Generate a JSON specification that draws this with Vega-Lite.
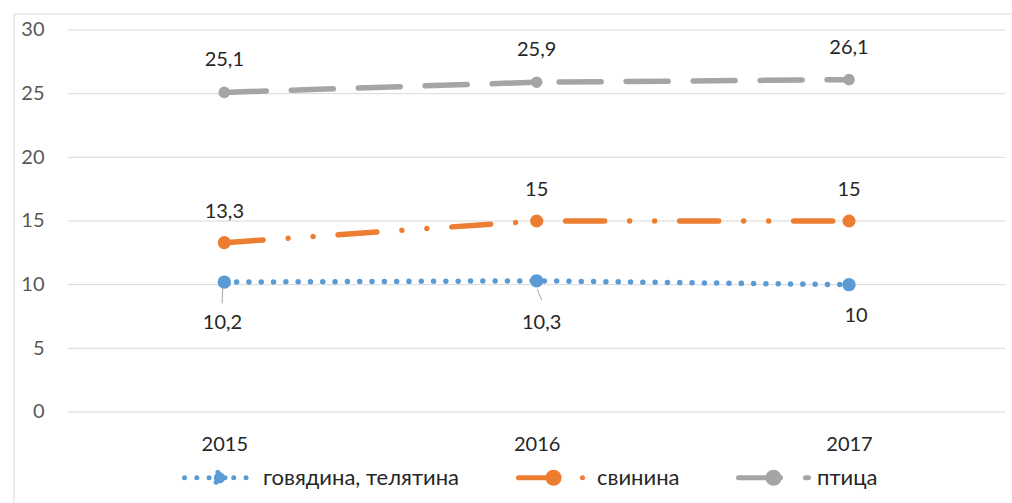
{
  "$schema": "https://vega.github.io/schema/vega-lite/v6.json",
  "width": 998,
  "height": 489,
  "autosize": {"type": "none"},
  "padding": {"left": 14, "top": 14, "right": 0, "bottom": 0},
  "background": "white",
  "config": {
    "view": {"stroke": null},
    "font": "Lato, 'Open Sans', sans-serif",
    "text": {"font": "Lato, 'Open Sans', sans-serif"}
  },
  "datasets": {
    "meat": [
      {"year": 2015, "series": "говядина, телятина", "value": 10.2, "label": "10,2"},
      {"year": 2016, "series": "говядина, телятина", "value": 10.3, "label": "10,3"},
      {"year": 2017, "series": "говядина, телятина", "value": 10, "label": "10"},
      {"year": 2015, "series": "свинина", "value": 13.3, "label": "13,3"},
      {"year": 2016, "series": "свинина", "value": 15, "label": "15"},
      {"year": 2017, "series": "свинина", "value": 15, "label": "15"},
      {"year": 2015, "series": "птица", "value": 25.1, "label": "25,1"},
      {"year": 2016, "series": "птица", "value": 25.9, "label": "25,9"},
      {"year": 2017, "series": "птица", "value": 26.1, "label": "26,1"}
    ],
    "grid": [{"v": 0}, {"v": 5}, {"v": 10}, {"v": 15}, {"v": 20}, {"v": 25}, {"v": 30}]
  },
  "layer": [
    {
      "data": {"name": "grid"},
      "mark": {"type": "rule", "color": "#d9d9d9", "strokeWidth": 1},
      "encoding": {
        "x": {"datum": 2014.5, "type": "quantitative", "scale": {"domain": [2014.3267, 2017.5218], "nice": false, "zero": false}},
        "x2": {"datum": 2017.5},
        "y": {"field": "v", "type": "quantitative", "scale": {"domain": [-7.147, 31.2565], "nice": false, "zero": false}}
      }
    },
    {
      "data": {"values": [{"k": 1}]},
      "mark": {"type": "rule", "color": "#d9d9d9", "strokeWidth": 1},
      "encoding": {
        "x": {"datum": 2014.3267, "type": "quantitative"},
        "y": {"datum": -7.147, "type": "quantitative"},
        "y2": {"datum": 31.2565}
      }
    },
    {
      "data": {"values": [{"k": 1}]},
      "mark": {"type": "rule", "color": "#d9d9d9", "strokeWidth": 1},
      "encoding": {
        "x": {"datum": 2014.3267, "type": "quantitative"},
        "x2": {"datum": 2017.5218},
        "y": {"datum": 31.2565, "type": "quantitative"}
      }
    },
    {
      "data": {"name": "meat"},
      "transform": [{"filter": "datum.series === 'говядина, телятина' && datum.year === 2015"}],
      "mark": {"type": "rule", "color": "#a6a6a6", "strokeWidth": 1, "xOffset": -1.6, "x2Offset": -2.3, "yOffset": 6.2, "y2Offset": 21.2},
      "encoding": {
        "x": {"field": "year", "type": "quantitative"},
        "x2": {"field": "year"},
        "y": {"field": "value", "type": "quantitative"},
        "y2": {"field": "value"}
      }
    },
    {
      "data": {"name": "meat"},
      "transform": [{"filter": "datum.series === 'говядина, телятина' && datum.year === 2016"}],
      "mark": {"type": "rule", "color": "#a6a6a6", "strokeWidth": 1, "xOffset": 0.6, "x2Offset": 5, "yOffset": 8.5, "y2Offset": 19.2},
      "encoding": {
        "x": {"field": "year", "type": "quantitative"},
        "x2": {"field": "year"},
        "y": {"field": "value", "type": "quantitative"},
        "y2": {"field": "value"}
      }
    },
    {
      "data": {"name": "meat"},
      "mark": {"type": "line", "strokeCap": "round", "strokeJoin": "round", "strokeWidth": 5.5},
      "encoding": {
        "x": {
          "field": "year", "type": "quantitative",
          "scale": {"domain": [2014.3267, 2017.5218], "nice": false, "zero": false},
          "axis": {"title": null, "values": [2015, 2016, 2017], "format": "d", "grid": false, "domain": false, "ticks": false, "tickSize": 0, "labelPadding": -58.5, "labelBaseline": "middle", "labelFontSize": 20, "labelColor": "#262626", "labelFont": "Lato, 'Open Sans', sans-serif", "labelFlush": false, "labelOverlap": false}
        },
        "y": {
          "field": "value", "type": "quantitative",
          "scale": {"domain": [-7.147, 31.2565], "nice": false, "zero": false},
          "axis": {"title": null, "values": [0, 5, 10, 15, 20, 25, 30], "grid": false, "domain": false, "ticks": false, "tickSize": 0, "labelPadding": -30, "labelBaseline": "middle", "labelFontSize": 20, "labelColor": "#595959", "labelFont": "Lato, 'Open Sans', sans-serif", "labelOverlap": false}
        },
        "color": {
          "field": "series", "type": "nominal",
          "scale": {"domain": ["говядина, телятина", "свинина", "птица"], "range": ["#5B9BD5", "#ED7D31", "#A5A5A5"]},
          "legend": {
            "title": null, "orient": "none", "direction": "horizontal", "legendX": 168, "legendY": 426,
            "symbolType": "M-1,0L1,0M0.16,0A0.16,0.16,0,1,1,-0.16,0A0.16,0.16,0,1,1,0.16,0Z",
            "symbolSize": 4900, "symbolStrokeWidth": 5, "labelFontSize": 22, "labelColor": "#262626", "labelLimit": 400,
            "labelFont": "Lato, 'Open Sans', sans-serif", "labelOffset": 6, "columnPadding": 56, "padding": 0,
            "encode": {"symbols": {"update": {
              "fill": {"scale": "color", "field": "value"}, "fillOpacity": {"value": 1},
              "strokeCap": {"value": "round"}, "strokeJoin": {"value": "round"}
            }}}
          }
        },
        "strokeDash": {
          "field": "series", "type": "nominal",
          "scale": {"domain": ["говядина, телятина", "свинина", "птица"], "range": [[0.01, 12.3], [39, 25, 0.01, 25, 0.01, 25], [42, 25]]},
          "legend": {
            "title": null, "orient": "none", "direction": "horizontal", "legendX": 168, "legendY": 426,
            "symbolType": "M-1,0L1,0M0.16,0A0.16,0.16,0,1,1,-0.16,0A0.16,0.16,0,1,1,0.16,0Z",
            "symbolSize": 4900, "symbolStrokeWidth": 5, "labelFontSize": 22, "labelColor": "#262626", "labelLimit": 400,
            "labelFont": "Lato, 'Open Sans', sans-serif", "labelOffset": 6, "columnPadding": 56, "padding": 0,
            "encode": {"symbols": {"update": {
              "fill": {"scale": "color", "field": "value"}, "fillOpacity": {"value": 1},
              "strokeCap": {"value": "round"}, "strokeJoin": {"value": "round"}
            }}}
          }
        }
      }
    },
    {
      "data": {"name": "meat"},
      "transform": [{"filter": "datum.series === 'говядина, телятина'"}],
      "mark": {"type": "point", "filled": true, "shape": "circle", "opacity": 1, "color": "#5B9BD5", "size": 180},
      "encoding": {
        "x": {"field": "year", "type": "quantitative"},
        "y": {"field": "value", "type": "quantitative"}
      }
    },
    {
      "data": {"name": "meat"},
      "transform": [{"filter": "datum.series === 'свинина'"}],
      "mark": {"type": "point", "filled": true, "shape": "circle", "opacity": 1, "color": "#ED7D31", "size": 170},
      "encoding": {
        "x": {"field": "year", "type": "quantitative"},
        "y": {"field": "value", "type": "quantitative"}
      }
    },
    {
      "data": {"name": "meat"},
      "transform": [{"filter": "datum.series === 'птица'"}],
      "mark": {"type": "point", "filled": true, "shape": "circle", "opacity": 1, "color": "#A5A5A5", "size": 135},
      "encoding": {
        "x": {"field": "year", "type": "quantitative"},
        "y": {"field": "value", "type": "quantitative"}
      }
    },
    {
      "data": {"name": "meat"},
      "transform": [{"filter": "datum.series === 'птица'"}],
      "mark": {"type": "text", "fontSize": 20, "color": "#262626", "align": "center", "baseline": "middle", "dy": -32},
      "encoding": {
        "x": {"field": "year", "type": "quantitative"},
        "y": {"field": "value", "type": "quantitative"},
        "text": {"field": "label"}
      }
    },
    {
      "data": {"name": "meat"},
      "transform": [{"filter": "datum.series === 'свинина'"}],
      "mark": {"type": "text", "fontSize": 20, "color": "#262626", "align": "center", "baseline": "middle", "dy": -30.5},
      "encoding": {
        "x": {"field": "year", "type": "quantitative"},
        "y": {"field": "value", "type": "quantitative"},
        "text": {"field": "label"}
      }
    },
    {
      "data": {"name": "meat"},
      "transform": [{"filter": "datum.series === 'говядина, телятина' && datum.year === 2015"}],
      "mark": {"type": "text", "fontSize": 20, "color": "#262626", "align": "center", "baseline": "middle", "dx": -1.8, "dy": 41},
      "encoding": {
        "x": {"field": "year", "type": "quantitative"},
        "y": {"field": "value", "type": "quantitative"},
        "text": {"field": "label"}
      }
    },
    {
      "data": {"name": "meat"},
      "transform": [{"filter": "datum.series === 'говядина, телятина' && datum.year === 2016"}],
      "mark": {"type": "text", "fontSize": 20, "color": "#262626", "align": "center", "baseline": "middle", "dx": 5, "dy": 42},
      "encoding": {
        "x": {"field": "year", "type": "quantitative"},
        "y": {"field": "value", "type": "quantitative"},
        "text": {"field": "label"}
      }
    },
    {
      "data": {"name": "meat"},
      "transform": [{"filter": "datum.series === 'говядина, телятина' && datum.year === 2017"}],
      "mark": {"type": "text", "fontSize": 20, "color": "#262626", "align": "center", "baseline": "middle", "dx": 7, "dy": 31},
      "encoding": {
        "x": {"field": "year", "type": "quantitative"},
        "y": {"field": "value", "type": "quantitative"},
        "text": {"field": "label"}
      }
    }
  ]
}
